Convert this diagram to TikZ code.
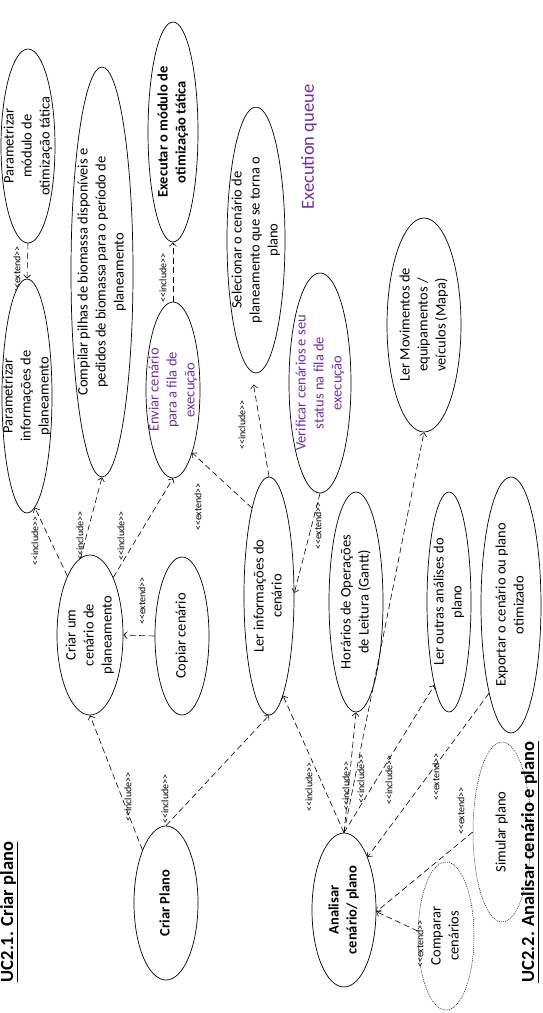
\documentclass[tikz,border=0pt]{standalone}
\usepackage{fontspec}
\setmainfont{Carlito}
\usepackage{graphicx}
\usetikzlibrary{shapes.geometric,arrows.meta}
\definecolor{purp}{HTML}{7030A0}
\newcommand{\rtxt}[1]{\rotatebox{90}{\begin{tabular}{@{}c@{}}#1\end{tabular}}}
\newcommand{\inc}{<\kern0pt<include>\kern0pt>}
\newcommand{\ext}{<\kern0pt<extend>\kern0pt>}
\tikzset{
  txt/.style={font=\fontsize{14.5}{18}\selectfont, inner sep=0pt},
  uc/.style={ellipse, draw, line width=0.7pt, fill=white, inner sep=0pt},
  opt/.style={uc, dash pattern=on 1pt off 1pt, line width=0.5pt},
  lbl/.style={rotate=90, font=\fontsize{10}{12}\selectfont, inner sep=0pt},
  dep/.style={line width=0.6pt, dash pattern=on 6pt off 3.5pt, -{Straight Barb[length=3.5pt,width=7pt]}},
  ttl/.style={rotate=90, font=\fontsize{18.5}{22}\selectfont\bfseries, inner sep=0pt}
}
\begin{document}
\begin{tikzpicture}[x=1pt,y=-1pt]
\useasboundingbox (0,0) rectangle (542,1013);
% stereotype labels
\node[lbl] (l1) at (17,270) {\ext};
\node[lbl] (l2) at (163,278) {\inc};
\node[lbl] (l3) at (35,541) {\inc};
\node[lbl] (l4) at (80,536) {\inc};
\node[lbl] (l5) at (121,536) {\inc};
\node[lbl] (l6) at (142,601) {\ext};
\node[lbl] (l7) at (198,507) {\ext};
\node[lbl] (l8) at (242,425) {\inc};
\node[lbl] (l9) at (318,526) {\ext};
\node[lbl] (l10) at (128,797) {\inc};
\node[lbl] (l11) at (165,799) {\inc};
\node[lbl] (l12) at (309,787) {\inc};
\node[lbl] (l13) at (346,786) {\inc};
\node[lbl] (l14) at (361,779) {\inc};
\node[lbl] (l15) at (389,780) {\inc};
\node[lbl] (l16) at (436,777) {\ext};
\node[lbl] (l17) at (461,811) {\ext};
% use cases
\node[uc, minimum width=54, minimum height=194, label={[txt]center:{\rtxt{Parametrizar\\módulo de\\otimização tática}}}] (pmod) at (28,146) {};
\node[uc, minimum width=50, minimum height=234, label={[txt]center:{\rtxt{Parametrizar\\informações de\\planeamento}}}] (pinf) at (27,396) {};
\node[uc, minimum width=62, minimum height=410, label={[txt]center:{\rtxt{Compilar pilhas de biomassa disponíveis e\\pedidos de biomassa para o período de\\planeamento}}}] (comp) at (102,272) {};
\node[uc, minimum width=50, minimum height=220, label={[txt,font=\fontsize{14.5}{18}\selectfont\bfseries]center:{\rtxt{Executar o módulo de\\otimização tática}}}] (exec) at (173,132) {};
\node[uc, minimum width=54, minimum height=176, label={[txt,text=purp]center:{\rtxt{Enviar cenário\\para a fila de\\execução}}}] (envi) at (173,390) {};
\node[uc, minimum width=58, minimum height=266, label={[txt]center:{\rtxt{Selecionar o cenário de\\planeamento que se torna o\\plano}}}] (sele) at (256,240) {};
\node[uc, minimum width=62, minimum height=220, label={[txt,text=purp]center:{\rtxt{Verificar cenários e seu\\status na fila de\\execução}}}] (veri) at (320,383) {};
\node[uc, minimum width=74, minimum height=214, label={[txt]center:{\rtxt{Ler Movimentos de\\equipamentos /\\veículos (Mapa)}}}] (lmov) at (424,325) {};
\node[uc, minimum width=66, minimum height=160, label={[txt]center:{\rtxt{Criar um\\cenário de\\planeamento}}}] (cria) at (90,635) {};
\node[uc, minimum width=54, minimum height=158, label={[txt]center:{\rtxt{Copiar cenário}}}] (copi) at (182,636) {};
\node[uc, minimum width=50, minimum height=238, label={[txt]center:{\rtxt{Ler informações do\\cenário}}}] (linf) at (269,596) {};
\node[uc, minimum width=54, minimum height=220, label={[txt]center:{\rtxt{Horários de Operações\\de Leitura (Gantt)}}}] (hora) at (356,602) {};
\node[uc, minimum width=44, minimum height=220, label={[txt]center:{\rtxt{Ler outras análises do\\plano}}}] (lout) at (449,602) {};
\node[uc, minimum width=60, minimum height=256, label={[txt]center:{\rtxt{Exportar o cenário ou plano\\otimizado}}}] (expo) at (511,605) {};
\node[uc, minimum width=64, minimum height=154, label={[txt,font=\fontsize{14.5}{18}\selectfont\bfseries]center:{\rtxt{Criar Plano}}}] (cpla) at (166,903) {};
\node[uc, minimum width=64, minimum height=154, label={[txt,font=\fontsize{14.5}{18}\selectfont\bfseries]center:{\rtxt{Analisar\\cenário/ plano}}}] (anal) at (344,910) {};
\node[opt, minimum width=56, minimum height=148, label={[txt]center:{\rtxt{Comparar\\cenários}}}] (cmpr) at (446,936) {};
\node[opt, minimum width=58, minimum height=180, label={[txt]center:{\rtxt{Simular plano}}}] (simu) at (502,832) {};
\node[lbl] (l18) at (420,944) {\ext};
% titles
\node[ttl] (t1) at (9,912) {\underline{UC2.1. Criar plano}};
\node[ttl] (t2) at (530,862) {\underline{UC2.2. Analisar cenário e plano}};
\node[rotate=90, font=\fontsize{18.5}{22}\selectfont, text=purp, inner sep=0pt] (eq) at (309,147) {Execution queue};
% connectors
\draw[dep] (pmod.south) -- (pinf.north);
\draw[dep] (envi.north) -- (exec.south);
\draw[dep] (cria.111) -- (pinf.274);
\draw[dep] (cria.97) -- (comp.south);
\draw[dep] (cria.68) -- (envi.south);
\draw[dep] (copi.west) -- (cria.east);
\draw[dep] (linf.101) -- (envi.287);
\draw[dep, shorten >=13pt] (linf.north) -- (sele.268);
\draw[dep] (veri.south) -- (linf.7);
\draw[dep] (cpla.114) -- (cria.south);
\draw[dep] (cpla.north) -- (linf.south);
\draw[dep] (anal.north) -- (linf.-82);
\draw[dep] (anal.north) -- (hora.south);
\draw[dep] (anal.north) -- (lmov.south);
\draw[dep] (anal.north) -- (lout.260);
\draw[dep] (expo.256) -- (anal.66);
\draw[dep] (simu.west) -- (anal.-3);
\draw[dep] (cmpr.170) -- (anal.-3);
\end{tikzpicture}
\end{document}
